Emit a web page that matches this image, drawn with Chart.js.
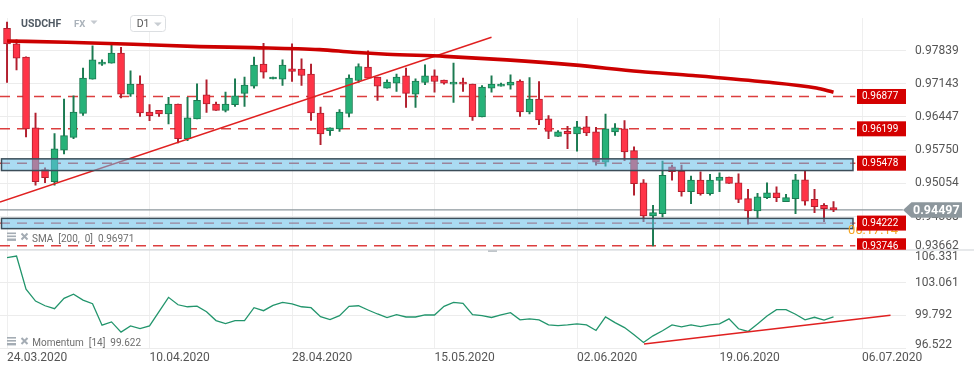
<!DOCTYPE html>
<html><head><meta charset="utf-8">
<script src="https://cdn.jsdelivr.net/npm/chart.js@4.4.1/dist/chart.umd.min.js"></script>
<style>html,body{margin:0;padding:0;background:#fff;}canvas{display:block;}</style>
</head><body>
<canvas id="c" width="974" height="375"></canvas>
<script>
// ---------- data ----------
const dateLabels = ["24.03.2020","10.04.2020","28.04.2020","15.05.2020","02.06.2020","19.06.2020","06.07.2020"];
const dateTickIdx = [0,15,30,45,60,75,90];

const opens = [0.98308,0.97979,0.97701,0.96218,0.95346,0.95089,0.95749,0.96021,0.96523,0.97242,
0.97555,0.97576,0.97785,0.96928,0.97137,0.96552,0.96585,0.96510,0.96719,0.95994,
0.96406,0.96914,0.96719,0.96585,0.96705,0.96941,0.97095,0.97555,0.97248,0.97242,
0.97457,0.97451,0.97347,0.96531,0.96161,0.96197,0.96523,0.97212,0.97492,0.97283,
0.97054,0.97158,0.97311,0.96928,0.97171,0.97311,0.97221,0.97137,0.97179,0.97137,
0.96447,0.97054,0.97095,0.97116,0.97201,0.96552,0.96824,0.96406,0.96042,0.96146,
0.96092,0.96239,0.96134,0.95498,0.96134,0.96197,0.95743,0.95068,0.94370,0.94420,
0.95402,0.95310,0.94880,0.95122,0.94838,0.95116,0.95185,0.95068,0.94734,0.94475,
0.94755,0.94859,0.94672,0.94734,0.95131,0.94719,0.94594,0.94546];
const highs = [0.98439,0.98063,0.97708,0.96531,0.95382,0.96098,0.96824,0.96893,0.97472,0.97938,
0.97645,0.97959,0.97910,0.97415,0.97311,0.96705,0.96585,0.96857,0.96719,0.96857,
0.97143,0.97227,0.96761,0.96970,0.97248,0.97283,0.97701,0.97994,0.97283,0.97645,
0.97979,0.97666,0.97555,0.96656,0.96218,0.96600,0.97332,0.97561,0.97833,0.97283,
0.97227,0.97347,0.97472,0.97248,0.97541,0.97436,0.97221,0.97576,0.97263,0.97137,
0.97108,0.97311,0.97158,0.97332,0.97227,0.97275,0.97192,0.96475,0.96161,0.96251,
0.96356,0.96460,0.96230,0.96510,0.96307,0.96370,0.95820,0.95137,0.94594,0.95520,
0.95436,0.95436,0.95206,0.95298,0.95242,0.95277,0.95185,0.95256,0.94928,0.94844,
0.95068,0.94984,0.94823,0.95242,0.95325,0.94928,0.94629,0.94671];
const lows = [0.97171,0.97436,0.96029,0.95018,0.95068,0.95018,0.95674,0.95994,0.96481,0.97242,
0.97527,0.97576,0.96845,0.96878,0.96460,0.96370,0.96460,0.96301,0.95904,0.95953,
0.96406,0.96544,0.96585,0.96552,0.96669,0.96669,0.97054,0.97263,0.97248,0.97108,
0.97192,0.97108,0.96376,0.95869,0.96063,0.96146,0.96447,0.97171,0.97263,0.96794,
0.97054,0.96983,0.96648,0.96648,0.97123,0.96970,0.97137,0.96753,0.96983,0.96376,
0.96447,0.96970,0.97095,0.97033,0.96460,0.96510,0.96287,0.95994,0.96042,0.95785,
0.95729,0.96057,0.95436,0.95415,0.96063,0.95531,0.94809,0.94253,0.93743,0.94349,
0.95122,0.94788,0.94629,0.94809,0.94809,0.94880,0.95054,0.94650,0.94197,0.94337,
0.94734,0.94672,0.94672,0.94420,0.94600,0.94441,0.94253,0.94462];
const closes = [0.97979,0.97681,0.96197,0.95089,0.95173,0.95779,0.96057,0.96552,0.97263,0.97645,
0.97597,0.97785,0.96928,0.97137,0.96531,0.96475,0.96510,0.96719,0.95994,0.96427,
0.96794,0.96719,0.96585,0.96719,0.96893,0.97116,0.97534,0.97388,0.97283,0.97534,
0.97401,0.97317,0.96531,0.96092,0.96218,0.96552,0.97263,0.97505,0.97263,0.97095,
0.97179,0.97283,0.96941,0.97201,0.97311,0.97192,0.97158,0.97179,0.97137,0.96447,
0.97074,0.97137,0.97137,0.97179,0.96552,0.96824,0.96385,0.96146,0.96134,0.96092,
0.96239,0.96113,0.95498,0.96197,0.96218,0.95716,0.95047,0.94370,0.94441,0.95221,
0.95298,0.94880,0.95122,0.94838,0.95122,0.95185,0.95054,0.94719,0.94475,0.94775,
0.94859,0.94755,0.94755,0.95131,0.94684,0.94566,0.94525,0.94497];

const momentum = [105.54,105.70,102.40,101.21,100.74,100.45,101.48,101.90,101.31,100.94,
98.80,99.13,98.11,98.73,98.46,98.73,100.15,101.58,100.84,100.64,
100.71,100.15,99.26,98.96,99.26,99.26,100.55,100.25,100.78,101.08,
100.94,100.64,100.55,99.65,99.36,99.75,100.68,100.74,100.32,99.92,
99.55,99.85,99.62,99.62,99.82,99.82,100.68,101.08,100.98,99.85,
99.75,99.57,99.82,100.05,99.33,99.43,99.33,98.83,98.76,98.83,
98.93,98.83,98.27,99.62,99.06,98.56,97.84,97.08,97.74,98.24,
98.83,98.63,98.83,98.66,98.83,98.93,99.43,98.44,98.17,98.93,
99.72,100.35,100.35,99.89,99.33,99.59,99.30,99.62];

const smaIdx  = [0, 6.3, 13.3, 20.3, 25.9, 32.9, 36.4, 40, 46.1, 52.6, 59.6, 66.6, 72.2, 79.3, 85.2, 87];
const smaVals = [0.98042,0.98015,0.97973,0.97923,0.97902,0.97860,0.97806,0.97764,0.97718,0.97645,0.97540,0.97400,0.97317,0.97192,0.97053,0.96966];

const priceTicks = [0.93662,0.94358,0.95054,0.95750,0.96447,0.97143,0.97839];
const momTicks = [96.522,99.792,103.061,106.331];
const levels = [0.96877,0.96199,0.95478,0.94222,0.93746];
const zones = [[0.95324,0.95569],[0.94106,0.94321]];
const lastPrice = 0.94497;
const trendIdx = [-0.74, 51.0];
const trendVals = [0.94663, 0.98119];
const momTrendIdx = [67.05, 93.0];
const momTrendVals = [96.92, 99.79];
const smaValue = 0.96971;
const momValue = 99.622;

// ---------- layout constants ----------
const X_MIN = -0.74, X_MAX = 94.63;
const LEVEL_END = 89.3, ZONE_END = 89.05, PRICE_LINE_END = 94.3;
const GREEN = '#27b279', GREEN_D = '#1b7a51', RED = '#ff3447', RED_D = '#b21f2e';

const idx = opens.map((_, i) => i);
const isUp = idx.map(i => closes[i] >= opens[i]);

const datasets = [];
levels.forEach(v => datasets.push({
  type: 'line', yAxisID: 'y', order: 20,
  data: [{x: X_MIN, y: v}, {x: LEVEL_END, y: v}],
  borderColor: 'rgba(214,28,28,0.85)', borderWidth: 1.4, borderDash: [10, 7],
  pointRadius: 0
}));
datasets.push({
  type: 'line', yAxisID: 'y', order: 19,
  data: [{x: X_MIN, y: lastPrice}, {x: PRICE_LINE_END, y: lastPrice}],
  borderColor: '#8d979d', borderWidth: 1.2, pointRadius: 0
});
datasets.push({
  type: 'bar', yAxisID: 'y', order: 15, grouped: false,
  data: idx.map(i => ({x: i, y: [lows[i], highs[i]]})),
  backgroundColor: idx.map(i => isUp[i] ? GREEN_D : RED_D),
  barThickness: 1.3
});
datasets.push({
  type: 'bar', yAxisID: 'y', order: 14, grouped: false,
  data: idx.map(i => ({x: i, y: [opens[i], closes[i]]})),
  backgroundColor: idx.map(i => isUp[i] ? GREEN : RED),
  borderColor: idx.map(i => isUp[i] ? GREEN_D : RED_D),
  borderWidth: 1, borderSkipped: false, barThickness: 7
});
datasets.push({
  type: 'line', yAxisID: 'y', order: 5,
  data: trendIdx.map((x, i) => ({x, y: trendVals[i]})),
  borderColor: '#e02020', borderWidth: 1.4, pointRadius: 0
});
datasets.push({
  type: 'line', yAxisID: 'y', order: 4,
  data: smaIdx.map((x, i) => ({x, y: smaVals[i]})),
  borderColor: '#cc0000', borderWidth: 3.6, pointRadius: 0,
  cubicInterpolationMode: 'monotone'
});
datasets.push({
  type: 'line', yAxisID: 'ym', order: 3,
  data: idx.map(i => ({x: i, y: momentum[i]})),
  borderColor: '#22956c', borderWidth: 1.3, pointRadius: 0
});
datasets.push({
  type: 'line', yAxisID: 'ym', order: 2,
  data: momTrendIdx.map((x, i) => ({x, y: momTrendVals[i]})),
  borderColor: '#e02020', borderWidth: 1.4, pointRadius: 0
});

const overlay = {
  id: 'overlay',
  afterDatasetsDraw(chart) {
    const {ctx, chartArea: ca, scales} = chart;
    const x = scales.x, y = scales.y, ym = scales.ym;
    ctx.save();
    // zones
    const zx0 = ca.left + 1.5, zx1 = x.getPixelForValue(ZONE_END);
    zones.forEach(([lo, hi]) => {
      const y0 = y.getPixelForValue(hi), y1 = y.getPixelForValue(lo);
      ctx.fillStyle = 'rgba(100,190,232,0.55)';
      ctx.fillRect(zx0, y0, zx1 - zx0, y1 - y0);
      ctx.strokeStyle = '#3c4d59'; ctx.lineWidth = 1.5;
      ctx.strokeRect(zx0, y0, zx1 - zx0, y1 - y0);
    });
    // separator
    ctx.fillStyle = '#cfd4d8';
    ctx.fillRect(0, Math.round(ym.top) - 0.5, 974, 1);
    ctx.fillStyle = '#b9c0c5';
    ctx.fillRect(488, ym.top + 0.5, 9, 1.6);

    // axis tick labels (right)
    ctx.font = '12px Roboto'; ctx.fillStyle = '#555'; ctx.textAlign = 'left'; ctx.textBaseline = 'middle';
    const lx = ca.right + 9;
    priceTicks.forEach(v => {
      let py = y.getPixelForValue(v);
      py = Math.min(Math.max(py, y.top + 7), y.bottom - 4);
      ctx.fillText(v.toFixed(5), lx, py);
    });
    momTicks.forEach(v => {
      let py = ym.getPixelForValue(v);
      py = Math.min(Math.max(py, ym.top + 7.5), ym.bottom - 3.5);
      ctx.fillText(v.toFixed(3), lx, py);
    });

    // countdown (partly hidden)
    ctx.font = '13px Roboto'; ctx.fillStyle = '#f5a524';
    ctx.fillText('06:17:14', ca.right - 58, y.getPixelForValue(levels[3]) + 8);

    // level label boxes
    ctx.save();
    ctx.beginPath(); ctx.rect(0, 0, 974, y.bottom); ctx.clip();
    levels.forEach(v => {
      const py = y.getPixelForValue(v);
      ctx.fillStyle = '#d40000';
      ctx.fillRect(ca.right - 49, py - 7.5, 49, 15);
      ctx.fillStyle = '#fff'; ctx.font = '10px Roboto';
      ctx.fillText(v.toFixed(5), ca.right - 44, py + 0.5);
    });
    ctx.restore();

    // last price box
    const pp = y.getPixelForValue(lastPrice);
    ctx.fillStyle = '#8d979d';
    ctx.beginPath();
    ctx.moveTo(ca.right - 3, pp);
    ctx.lineTo(ca.right + 5.5, pp - 7.8);
    ctx.lineTo(ca.right + 56, pp - 7.8);
    ctx.lineTo(ca.right + 56, pp + 7.8);
    ctx.lineTo(ca.right + 5.5, pp + 7.8);
    ctx.closePath(); ctx.fill();
    ctx.fillStyle = '#fff'; ctx.font = 'bold 12.5px Roboto';
    ctx.fillText(lastPrice.toFixed(5), ca.right + 7, pp + 0.5);

    // legends
    const icon = (yy) => {
      ctx.fillStyle = '#a4acb4';
      ctx.fillRect(7, yy - 4.5, 9, 1.6);
      ctx.fillRect(7, yy - 1.5, 9, 1.6);
      ctx.fillRect(7, yy + 1.5, 9, 2.4);
      ctx.strokeStyle = '#a4acb4'; ctx.lineWidth = 2;
      ctx.beginPath();
      ctx.moveTo(21.5, yy - 3.5); ctx.lineTo(27.5, yy + 2.5);
      ctx.moveTo(27.5, yy - 3.5); ctx.lineTo(21.5, yy + 2.5);
      ctx.stroke();
    };
    ctx.textBaseline = 'alphabetic';
    icon(237);
    ctx.font = '10px Roboto'; ctx.fillStyle = '#6e6e6e';
    ctx.fillText('SMA  [200,  0]  ' + smaValue.toFixed(5), 32, 241.5);
    icon(341.5);
    ctx.font = '10px Roboto'; ctx.fillStyle = '#6e6e6e';
    ctx.fillText('Momentum  [14]  ' + momValue.toFixed(3), 32.3, 346);

    // header
    ctx.font = 'bold 10.5px Roboto'; ctx.fillStyle = '#505a63';
    ctx.fillText('USDCHF', 21, 26.7);
    ctx.font = 'bold 9.5px Roboto'; ctx.fillStyle = '#aab2ba';
    ctx.fillText('FX', 74, 26.7);
    ctx.fillStyle = '#c5cad0';
    ctx.beginPath(); ctx.moveTo(90.5, 20.5); ctx.lineTo(97.5, 20.5); ctx.lineTo(94, 24.2); ctx.closePath(); ctx.fill();
    ctx.fillStyle = '#fff'; ctx.strokeStyle = '#dcdfe2'; ctx.lineWidth = 1;
    ctx.beginPath(); ctx.roundRect(130.5, 15.5, 35, 16, 3); ctx.fill(); ctx.stroke();
    ctx.font = '10.5px Roboto'; ctx.fillStyle = '#555';
    ctx.fillText('D1', 136.7, 27);
    ctx.fillStyle = '#c8cdd2';
    ctx.beginPath(); ctx.moveTo(154, 22.5); ctx.lineTo(161.7, 22.5); ctx.lineTo(157.85, 26.3); ctx.closePath(); ctx.fill();
    ctx.restore();
  }
};

new Chart(document.getElementById('c'), {
  type: 'bar',
  data: {datasets},
  options: {
    responsive: false, animation: false, events: [],
    devicePixelRatio: 1,
    layout: {padding: {top: 18, left: 0, right: 0, bottom: 0}},
    plugins: {legend: {display: false}, tooltip: {enabled: false}},
    scales: {
      x: {
        type: 'linear', min: X_MIN, max: X_MAX, offset: false,
        afterBuildTicks: s => { s.ticks = dateTickIdx.map(v => ({value: v})); },
        ticks: {
          callback: (v, i) => dateLabels[i], align: 'start', autoSkip: false, maxRotation: 0,
          font: {family: 'Roboto', size: 12}, color: '#555', padding: 3
        },
        grid: {color: '#efefef', drawTicks: false, offset: false},
        border: {display: false},
        afterFit: s => { s.height = 27; }
      },
      y: {
        type: 'linear', position: 'right', stack: 'panes', stackWeight: 232,
        min: 0.93662, max: 0.98523,
        afterBuildTicks: s => { s.ticks = priceTicks.map(v => ({value: v})); },
        ticks: {display: false},
        grid: {color: '#ececec', drawTicks: false},
        border: {display: false},
        afterFit: s => { s.width = 68; }
      },
      ym: {
        type: 'linear', position: 'right', stack: 'panes', stackWeight: 98.3,
        min: 96.522, max: 106.331,
        afterBuildTicks: s => { s.ticks = momTicks.map(v => ({value: v})); },
        ticks: {display: false},
        grid: {color: '#ececec', drawTicks: false},
        border: {display: false},
        afterFit: s => { s.width = 68; }
      }
    }
  },
  plugins: [overlay]
});
</script>
</body></html>
